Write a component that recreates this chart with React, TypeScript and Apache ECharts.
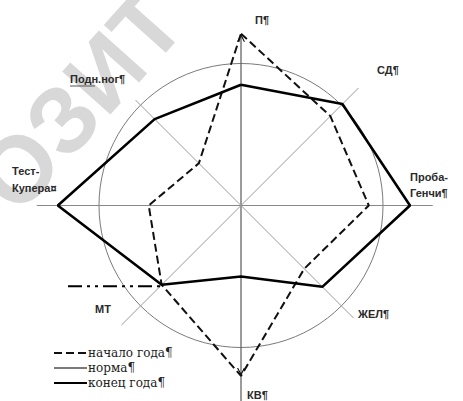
import React, { useEffect, useRef } from 'react';
import * as echarts from 'echarts';

// Axes (clockwise from top)
const categories = ['П¶', 'СД¶', 'Проба-Генчи¶', 'ЖЕЛ¶', 'КВ¶', 'МТ', 'Тест-Купера¤', 'Подн.ног¶'];
const angles = [0, 45, 90, 135, 180, 225, 270, 315];
// values in relative units, norm = 100
const startOfYear = [121, 89, 90, 63, 120, 79, 65, 42];
const endOfYear = [85, 101, 119, 81, 50, 79, 129, 86];
const normValue = 100;
const axisLengths = [119, 117, 135, 112, 138, 119, 144, 105];
const legendNames = ['начало года¶', 'норма¶', 'конец года¶'];

const R_MAX = 144;
const PX_PER_UNIT = 1.42;

const chevron = 'path://M0,8L4,0L8,8L6.8,8L4,2.6L1.2,8Z';

export default function App() {
  const ref = useRef<HTMLDivElement>(null);
  useEffect(() => {
    document.body.style.margin = '0';
    const chart = echarts.init(ref.current!, undefined, { renderer: 'svg' });

    const closed = (vals: number[]) => {
      const pts: any[] = vals.map((v, i) => [v, angles[i]]);
      pts.push([vals[0], 360]);
      return pts;
    };

    const axisPair = (a: number, b: number, color: string, width: number) => ({
      type: 'line',
      coordinateSystem: 'polar',
      symbol: 'none',
      silent: true,
      z: 1,
      lineStyle: { color, width },
      data: [
        [axisLengths[a], angles[a]],
        [0, 0],
        [axisLengths[b], angles[b]],
      ],
    });

    const startData: any[] = closed(startOfYear).map((p, i) => {
      if (i === 0) {
        return { value: p, symbol: chevron, symbolSize: [8, 8], symbolOffset: [0, 4] };
      }
      if (i === 4) {
        return { value: p, symbol: chevron, symbolSize: [8, 8], symbolRotate: 180, symbolOffset: [0, -4] };
      }
      return { value: p, symbol: 'none' };
    });

    const labelFont = 'bold 11px "Liberation Sans", Arial, sans-serif';
    const lbl = (id: string, text: string, left: number, top: number, lineHeight = 14) => ({
      id,
      type: 'text',
      left,
      top,
      z: 10,
      style: { text, font: labelFont, fill: '#2a2a2a', lineHeight },
    });

    chart.setOption({
      animation: false,
      polar: { center: [241, 205.5], radius: R_MAX * PX_PER_UNIT },
      angleAxis: {
        type: 'value',
        min: 0,
        max: 360,
        startAngle: 90,
        clockwise: true,
        axisLine: { show: false },
        axisTick: { show: false },
        axisLabel: { show: false },
        splitLine: { show: false },
      },
      radiusAxis: {
        type: 'value',
        min: 0,
        max: R_MAX,
        interval: normValue,
        axisLine: { show: false },
        axisTick: { show: false },
        axisLabel: { show: false },
        splitLine: {
          show: true,
          lineStyle: { color: ['rgba(0,0,0,0)', '#7a7a7a', 'rgba(0,0,0,0)'], width: 1 },
        },
      },
      legend: {
        orient: 'vertical',
        left: 48,
        top: 342,
        itemWidth: 33,
        itemHeight: 12,
        itemGap: 3,
        data: legendNames,
        itemStyle: { opacity: 0 },
        textStyle: {
          fontFamily: '"DejaVu Serif", serif',
          fontSize: 12,
          lineHeight: 12,
          color: '#222',
          padding: [0, 0, 0, -4],
        },
      },
      series: [
        axisPair(0, 4, '#666', 1.3),
        axisPair(2, 6, '#888', 1),
        axisPair(1, 5, '#999', 1),
        axisPair(7, 3, '#999', 1),
        {
          name: legendNames[0],
          type: 'line',
          coordinateSystem: 'polar',
          symbol: 'none',
          z: 3,
          itemStyle: { color: '#111' },
          lineStyle: { color: '#111', width: 2, type: [8, 4] },
          data: startData,
        },
        {
          name: legendNames[1],
          type: 'line',
          coordinateSystem: 'polar',
          symbol: 'none',
          itemStyle: { color: '#7a7a7a' },
          lineStyle: { color: '#7a7a7a', width: 1 },
          data: [],
        },
        {
          name: legendNames[2],
          type: 'line',
          coordinateSystem: 'polar',
          symbol: 'none',
          z: 4,
          itemStyle: { color: '#000' },
          lineStyle: { color: '#000', width: 2.6 },
          data: closed(endOfYear),
        },
      ],
      graphic: [
        {
          id: 'wm',
          type: 'text',
          x: -6,
          y: 196,
          rotation: 0.84,
          z: 0,
          silent: true,
          style: {
            text: 'ОЗИТ',
            font: 'bold 94px "Liberation Sans", Arial, sans-serif',
            fill: '#d8d8d8',
            verticalAlign: 'middle',
          },
        },
        lbl('l0', categories[0], 255, 13),
        lbl('l1', categories[1], 377, 63),
        lbl('l2', 'Проба-\nГенчи¶', 410, 169, 16),
        lbl('l3', categories[3], 358, 307),
        lbl('l4', categories[4], 247, 388),
        lbl('l5', categories[5], 95, 302),
        lbl('l6', 'Тест-\nКупера¤', 12, 162, 17),
        lbl('l7', categories[7], 70, 72),
        {
          id: 'ul',
          type: 'line',
          z: 10,
          shape: { x1: 70, y1: 86, x2: 95, y2: 86 },
          style: { stroke: '#555', lineWidth: 1 },
        },
      ],
    });

    const p = chart.convertToPixel({ seriesIndex: 6 }, [endOfYear[5], angles[5]]) as number[];
    if (p && isFinite(p[0])) {
      chart.setOption({
        graphic: [
          {
            id: 'dashdot',
            type: 'line',
            z: 5,
            shape: { x1: 68, y1: p[1] + 1.5, x2: p[0], y2: p[1] + 1.5 },
            style: { stroke: '#000', lineWidth: 2, lineDash: [14, 5, 3, 5, 3, 5] },
          },
        ],
      });
    }

    return () => chart.dispose();
  }, []);

  return <div ref={ref} style={{ width: 463, height: 401 }} />;
}
